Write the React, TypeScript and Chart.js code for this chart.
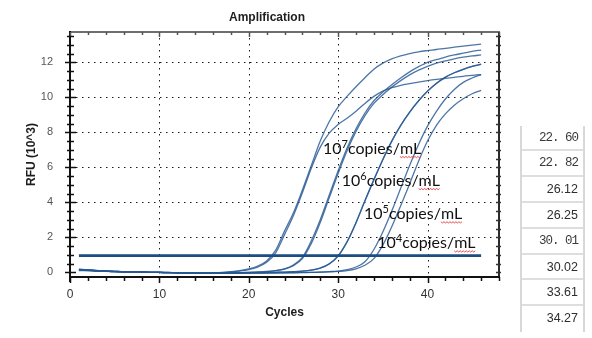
import React, { useEffect, useRef } from "react";
import { Chart, registerables } from "chart.js";

Chart.register(...registerables);

// PCR cycle numbers
const cycles = [
  1, 2, 3, 4, 5, 6, 7, 8, 9, 10, 11, 12, 13, 14, 15, 16, 17, 18, 19, 20, 21, 22, 23,
  24, 25, 26, 27, 28, 29, 30, 31, 32, 33, 34, 35, 36, 37, 38, 39, 40, 41, 42, 43, 44,
  45, 46,
];

// RFU (x10^3) per cycle, one array per well
const rfu7a = [
  0.16, 0.13, 0.1, 0.07, 0.05, 0.03, 0.02, 0.01, 0.0, 0.0, -0.01, -0.02, -0.03, -0.04,
  -0.04, -0.03, -0.01, 0.03, 0.09, 0.19, 0.36, 0.65, 1.25, 2.35, 3.4, 4.7, 6.1, 7.5,
  8.6, 9.45, 10.05, 10.6, 11.12, 11.6, 11.95, 12.2, 12.37, 12.5, 12.6, 12.67, 12.73,
  12.8, 12.86, 12.92, 12.98, 13.04,
];
const rfu7b = [
  0.13, 0.11, 0.08, 0.06, 0.04, 0.03, 0.02, 0.01, 0.0, -0.01, -0.02, -0.03, -0.04,
  -0.05, -0.05, -0.04, -0.02, 0.02, 0.07, 0.15, 0.3, 0.57, 1.1, 2.15, 3.25, 4.55, 5.95,
  7.15, 7.95, 8.45, 8.8, 9.2, 9.65, 10.05, 10.35, 10.55, 10.68, 10.78, 10.87, 10.95,
  11.02, 11.08, 11.14, 11.2, 11.25, 11.3,
];
const rfu6a = [
  0.14, 0.12, 0.09, 0.07, 0.05, 0.03, 0.02, 0.01, 0.0, 0.0, -0.01, -0.02, -0.03, -0.03,
  -0.04, -0.04, -0.04, -0.03, -0.02, 0.0, 0.02, 0.05, 0.1, 0.2, 0.42, 0.85, 1.8, 3.0,
  4.4, 5.8, 7.1, 8.2, 9.1, 9.8, 10.3, 10.72, 11.1, 11.45, 11.75, 12.0, 12.15, 12.3,
  12.42, 12.52, 12.62, 12.7,
];
const rfu6b = [
  0.12, 0.1, 0.08, 0.06, 0.04, 0.03, 0.02, 0.01, 0.0, -0.01, -0.02, -0.02, -0.03, -0.04,
  -0.04, -0.04, -0.03, -0.03, -0.02, -0.01, 0.01, 0.04, 0.09, 0.18, 0.38, 0.78, 1.65,
  2.85, 4.25, 5.65, 6.95, 8.05, 8.95, 9.65, 10.15, 10.58, 10.95, 11.28, 11.55, 11.77,
  11.95, 12.08, 12.2, 12.29, 12.36, 12.42,
];
const rfu5a = [
  0.18, 0.15, 0.11, 0.08, 0.05, 0.03, 0.02, 0.01, 0.0, -0.01, -0.02, -0.03, -0.04,
  -0.05, -0.05, -0.05, -0.05, -0.04, -0.04, -0.03, -0.02, -0.01, 0.0, 0.01, 0.03, 0.06,
  0.12, 0.24, 0.48, 0.94, 1.75, 2.85, 4.1, 5.3, 6.45, 7.5, 8.4, 9.15, 9.8, 10.35, 10.8,
  11.15, 11.4, 11.6, 11.77, 11.9,
];
const rfu5b = [
  0.1, 0.09, 0.07, 0.05, 0.04, 0.03, 0.02, 0.01, 0.0, -0.01, -0.02, -0.03, -0.03, -0.04,
  -0.04, -0.05, -0.04, -0.04, -0.03, -0.03, -0.02, -0.01, 0.0, 0.01, 0.03, 0.06, 0.12,
  0.24, 0.47, 0.93, 1.73, 2.82, 4.07, 5.28, 6.43, 7.48, 8.38, 9.14, 9.79, 10.34, 10.79,
  11.14, 11.4, 11.6, 11.76, 11.88,
];
const rfu4a = [
  0.15, 0.12, 0.09, 0.07, 0.05, 0.03, 0.02, 0.01, 0.0, -0.01, -0.02, -0.03, -0.04,
  -0.05, -0.05, -0.06, -0.06, -0.06, -0.05, -0.05, -0.04, -0.04, -0.03, -0.03, -0.02,
  -0.01, 0.0, 0.02, 0.04, 0.07, 0.15, 0.3, 0.6, 1.3, 2.3, 3.5, 4.8, 6.1, 7.3, 8.35,
  9.2, 9.9, 10.45, 10.85, 11.1, 11.3,
];
const rfu4b = [
  0.13, 0.11, 0.08, 0.06, 0.04, 0.03, 0.02, 0.01, 0.0, -0.01, -0.02, -0.03, -0.04,
  -0.04, -0.05, -0.05, -0.06, -0.06, -0.05, -0.05, -0.05, -0.04, -0.04, -0.03, -0.03,
  -0.02, -0.01, 0.0, 0.02, 0.05, 0.1, 0.2, 0.4, 0.78, 1.55, 2.6, 3.8, 5.05, 6.35, 7.5,
  8.4, 9.05, 9.55, 9.92, 10.2, 10.4,
];

const wellSeries = [rfu7a, rfu7b, rfu6a, rfu6b, rfu5a, rfu5b, rfu4a, rfu4b];

// Threshold (x10^3 RFU) and its cycle span
const thresholdRFU = 0.95;
const thresholdCycles = [1, 46];

// Axis tick labels
const xTickValues = [0, 10, 20, 30, 40];
const yTickValues = [0, 2, 4, 6, 8, 10, 12];

// Quantification cycle per well, as listed beside the plot
const cqValues = ["22. 60", "22. 82", "26.12", "26.25", "30. 01", "30.02", "33.61", "34.27"];

// Template concentration exponents (copies/mL)
const dilutionExponents = ["7", "6", "5", "4"];

const chartTitle = "Amplification";
const xTitle = "Cycles";
const yTitle = "RFU (10^3)";

// Anchor of each concentration label in data units (cycle, RFU)
const labelAnchors = [
  { x: 28.31, y: 6.76 },
  { x: 30.4, y: 4.93 },
  { x: 32.9, y: 3.03 },
  { x: 34.38, y: 1.37 },
];

const AXIS_FONT = "'Liberation Sans', Arial, sans-serif";
const LABEL_FONT = "Lato, 'Open Sans', sans-serif";

const framePlugin = {
  id: "qpcrFrame",
  beforeDatasetsDraw(chart: any) {
    const { ctx, chartArea: a, scales } = chart;
    const xs = scales.x;
    const ys = scales.y;
    ctx.save();
    ctx.strokeStyle = "#1a1a1a";
    ctx.lineWidth = 1;
    ctx.setLineDash([1.5, 4.5]);
    xs.ticks
      .map((t: any) => t.value)
      .filter((v: number) => v > xs.min && v < xs.max)
      .forEach((v: number) => {
        const px = Math.round(xs.getPixelForValue(v)) + 0.5;
        ctx.beginPath();
        ctx.moveTo(px, a.top);
        ctx.lineTo(px, a.bottom);
        ctx.stroke();
      });
    ys.ticks
      .map((t: any) => t.value)
      .filter((v: number) => v > 0 && v < ys.max)
      .forEach((v: number) => {
        const py = Math.round(ys.getPixelForValue(v)) + 0.5;
        ctx.beginPath();
        ctx.moveTo(a.left, py);
        ctx.lineTo(a.right, py);
        ctx.stroke();
      });
    ctx.restore();
  },
  afterDraw(chart: any) {
    const { ctx, chartArea: a, scales } = chart;
    const xs = scales.x;
    const ys = scales.y;
    ctx.save();
    ctx.setLineDash([]);

    const seg = (x1: number, y1: number, x2: number, y2: number) => {
      ctx.beginPath();
      ctx.moveTo(x1, y1);
      ctx.lineTo(x2, y2);
      ctx.stroke();
    };

    // frame
    ctx.lineWidth = 2;
    ctx.strokeStyle = "#6e6e6e";
    seg(a.left, a.top, a.right + 1, a.top);
    ctx.strokeStyle = "#2a2a2a";
    seg(a.right, a.top, a.right, a.bottom);
    ctx.strokeStyle = "#111";
    seg(a.left, a.top - 1, a.left, a.bottom + 5);
    seg(a.left - 1, a.bottom, a.right + 1, a.bottom);

    // x tick marks (every 2 cycles)
    ctx.lineWidth = 1.5;
    for (let c = 0; c <= xs.max; c += 2) {
      const px = Math.round(xs.getPixelForValue(c)) + 0.5;
      const major = c % 10 === 0;
      ctx.strokeStyle = "#111";
      seg(px, a.bottom, px, a.bottom + (major ? 6 : 4));
      ctx.strokeStyle = "#555";
      seg(px, a.top, px, a.top + (major ? 5 : 3));
    }
    // y tick marks (every 0.5)
    for (let v = 0; v <= ys.max; v += 0.5) {
      const py = Math.round(ys.getPixelForValue(v)) + 0.5;
      const major = Math.abs(v % 2) < 1e-9;
      ctx.strokeStyle = "#111";
      if (major) seg(a.left - 5, py, a.left + 6, py);
      else seg(a.left - 3, py, a.left + 4, py);
      ctx.strokeStyle = "#333";
      seg(a.right - 3, py, a.right + 2, py);
    }

    // titles
    ctx.fillStyle = "#1e1e1e";
    ctx.font = `bold 12px ${AXIS_FONT}`;
    ctx.textAlign = "center";
    ctx.textBaseline = "middle";
    ctx.fillText(chartTitle, 267, 18);
    ctx.fillText(xTitle, (a.left + a.right) / 2, 313);
    ctx.save();
    ctx.translate(32, (a.top + a.bottom) / 2);
    ctx.rotate(-Math.PI / 2);
    ctx.fillText(yTitle, 0, 0);
    ctx.restore();

    // concentration labels
    ctx.textAlign = "left";
    ctx.textBaseline = "alphabetic";
    dilutionExponents.forEach((exp, i) => {
      const anchor = labelAnchors[i];
      const x0 = xs.getPixelForValue(anchor.x);
      const y0 = ys.getPixelForValue(anchor.y);
      ctx.fillStyle = "#111";
      ctx.font = `16px ${LABEL_FONT}`;
      ctx.fillText("10", x0, y0);
      let w = ctx.measureText("10").width;
      ctx.font = `11px ${LABEL_FONT}`;
      ctx.fillText(exp, x0 + w, y0 - 6);
      w += ctx.measureText(exp).width;
      ctx.font = `16px ${LABEL_FONT}`;
      ctx.fillText("copies/", x0 + w, y0);
      w += ctx.measureText("copies/").width;
      ctx.fillText("mL", x0 + w, y0);
      const mlW = ctx.measureText("mL").width;
      // wavy underline under the unit
      ctx.strokeStyle = "#e23b3b";
      ctx.lineWidth = 0.9;
      ctx.beginPath();
      const sy = y0 + 2.5;
      for (let k = 0; k <= mlW; k += 1.5) {
        const yy = sy + (Math.round(k / 1.5) % 2 === 0 ? 0 : 1.2);
        if (k === 0) ctx.moveTo(x0 + w + k, yy);
        else ctx.lineTo(x0 + w + k, yy);
      }
      ctx.stroke();
    });

    ctx.restore();
  },
};

export default function App() {
  const canvasRef = useRef<HTMLCanvasElement | null>(null);

  useEffect(() => {
    if (!canvasRef.current) return;
    const datasets: any[] = [
      {
        label: "Threshold",
        data: thresholdCycles.map((c) => ({ x: c, y: thresholdRFU })),
        borderColor: "#1b4d82",
        borderWidth: 2.6,
        pointRadius: 0,
        tension: 0,
      },
      ...wellSeries.map((series, i) => ({
        label: `Well ${i + 1}`,
        data: cycles.map((c, k) => ({ x: c, y: series[k] })),
        borderColor: "rgba(38, 88, 145, 0.82)",
        borderWidth: 1.3,
        pointRadius: 0,
        cubicInterpolationMode: "monotone",
      })),
    ];

    const chart = new Chart(canvasRef.current, {
      type: "line",
      data: { datasets },
      options: {
        responsive: false,
        animation: false,
        devicePixelRatio: 1,
        layout: { padding: { left: 0, right: 93, top: 32, bottom: 0 } },
        plugins: {
          legend: { display: false },
          title: { display: false },
          tooltip: { enabled: false },
        },
        scales: {
          x: {
            type: "linear",
            min: 0,
            max: 48,
            grid: { display: false, drawTicks: false },
            border: { display: false },
            ticks: {
              padding: 10,
              color: "#333",
              font: { family: AXIS_FONT, size: 12 },
              maxRotation: 0,
              autoSkip: false,
            },
            afterBuildTicks: (scale: any) => {
              scale.ticks = xTickValues.map((v) => ({ value: v }));
            },
            afterFit: (scale: any) => {
              scale.height = 61;
            },
          },
          y: {
            type: "linear",
            min: -0.27,
            max: 13.73,
            grid: { display: false, drawTicks: false },
            border: { display: false },
            ticks: {
              padding: 17,
              color: "#555",
              font: { family: AXIS_FONT, size: 11 },
              autoSkip: false,
            },
            afterBuildTicks: (scale: any) => {
              scale.ticks = yTickValues.map((v) => ({ value: v }));
            },
            afterFit: (scale: any) => {
              scale.width = 70;
            },
          },
        },
      } as any,
      plugins: [framePlugin],
    });
    return () => chart.destroy();
  }, []);

  const rowH = 25.8;

  return (
    <div
      style={{
        position: "absolute",
        left: 0,
        top: 0,
        width: 592,
        height: 338,
        background: "#fff",
        overflow: "hidden",
      }}
    >
      <canvas ref={canvasRef} width={592} height={338} style={{ display: "block" }} />
      <div
        style={{
          position: "absolute",
          left: 520,
          top: 125.7,
          width: 65,
          height: rowH * cqValues.length,
          borderLeft: "2px solid #d8d8d8",
          borderRight: "2px solid #d8d8d8",
          boxSizing: "border-box",
        }}
      >
        {cqValues.map((v, i) => {
          const mono = v.includes(". ");
          return (
            <div
              key={i}
              style={{
                height: rowH,
                boxSizing: "border-box",
                borderBottom: i < cqValues.length - 1 ? "2px solid #dedede" : "none",
                textAlign: "right",
                paddingRight: 5,
                lineHeight: `${rowH}px`,
                whiteSpace: "pre",
                color: mono ? "#3a3a3a" : "#2e2e2e",
                fontFamily: mono ? "'Liberation Mono', monospace" : AXIS_FONT,
                fontSize: mono ? 12.5 : 12.5,
                letterSpacing: mono ? "-1px" : "normal",
              }}
            >
              {v}
            </div>
          );
        })}
      </div>
    </div>
  );
}
